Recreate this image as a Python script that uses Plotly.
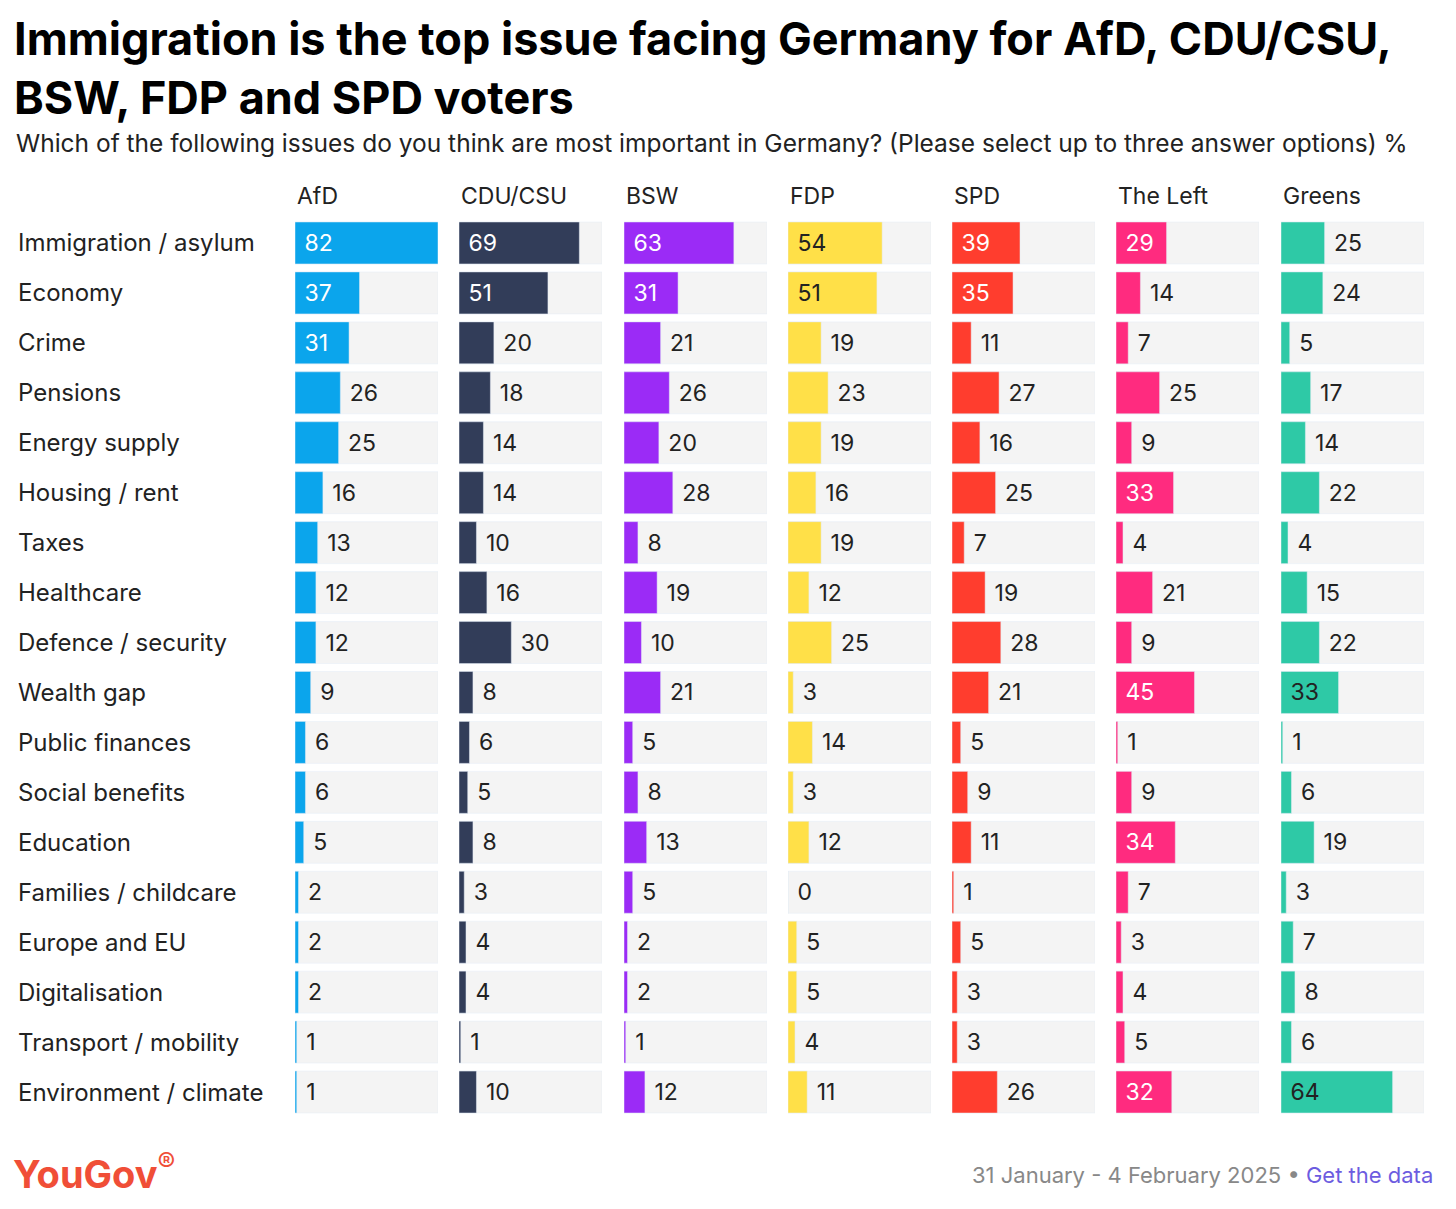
import plotly.graph_objects as go

issues = ["Immigration / asylum","Economy","Crime","Pensions","Energy supply","Housing / rent","Taxes","Healthcare","Defence / security","Wealth gap","Public finances","Social benefits","Education","Families / childcare","Europe and EU","Digitalisation","Transport / mobility","Environment / climate"]
parties = ["AfD","CDU/CSU","BSW","FDP","SPD","The Left","Greens"]
afd = [82,37,31,26,25,16,13,12,12,9,6,6,5,2,2,2,1,1]
cdu = [69,51,20,18,14,14,10,16,30,8,6,5,8,3,4,4,1,10]
bsw = [63,31,21,26,20,28,8,19,10,21,5,8,13,5,2,2,1,12]
fdp = [54,51,19,23,19,16,19,12,25,3,14,3,12,0,5,5,4,11]
spd = [39,35,11,27,16,25,7,19,28,21,5,9,11,1,5,3,3,26]
left = [29,14,7,25,9,33,4,21,9,45,1,9,34,7,3,4,5,32]
greens = [25,24,5,17,14,22,4,15,22,33,1,6,19,3,7,8,6,64]
series = [afd,cdu,bsw,fdp,spd,left,greens]
colors = ["#0ba5ec","#323d59","#9b2bf6","#ffe048","#ff3d2e","#ff2b7f","#2ec9a6"]
inside_col = ["white","white","white","#222","white","white","#222"]

W, H = 1456, 1209
D = 9  # page offset compensation
lefts = [296,460,625,789,953,1117,1282]
colw = 143
fig = go.Figure()
for i,(p,vals,c) in enumerate(zip(parties,series,colors)):
    ax = "" if i==0 else str(i+1)
    fig.add_trace(go.Bar(y=issues, x=[82]*len(issues), orientation="h", marker_color="#f4f4f4",
                         width=0.84, xaxis="x"+ax, yaxis="y", hoverinfo="skip", showlegend=False))
    ins = [v >= 29 and not (i == 1 and v == 30) for v in vals]
    pos = ["inside" if k else "outside" for k in ins]
    tcol = [inside_col[i] if k else "#222" for k in ins]
    txt = ["\u00a0"+str(v) for v in vals]
    fig.add_trace(go.Bar(y=issues, x=vals, orientation="h", marker_color=c, width=0.84,
                         text=txt, textposition=pos, insidetextanchor="start",
                         textfont=dict(size=23,color=tcol,family="Inter"), cliponaxis=False,
                         constraintext="none",
                         xaxis="x"+ax, yaxis="y", showlegend=False))
    fig.layout["xaxis"+ax] = dict(domain=[(lefts[i]-D)/W,(lefts[i]-D+colw)/W], range=[0,82],
                                  visible=False, anchor="y", fixedrange=True)
    fig.add_annotation(text=p, x=(lefts[i]-D)/W, y=1-(197-D)/H, xref="paper", yref="paper", showarrow=False,
                       xanchor="left", yanchor="middle", font=dict(size=23,color="#222",family="Inter"))
fig.update_layout(barmode="overlay")
top, bot = 219-D, 1118-D
fig.update_layout(yaxis=dict(domain=[1-bot/H,1-top/H], autorange="reversed", visible=False, fixedrange=True))
rowh = (bot-top)/len(issues)
for j,iss in enumerate(issues):
    fig.add_annotation(text=iss, x=(17-D)/W, y=1-(top+rowh*(j+0.5))/H, xref="paper", yref="paper",
                       showarrow=False, xanchor="left", yanchor="middle",
                       font=dict(size=24,color="#222",family="Inter"))
fig.add_annotation(text="<b>Immigration is the top issue facing Germany for AfD, CDU/CSU,<br>BSW, FDP and SPD voters</b>",
                   x=(13-D)/W, y=1-1/H, xref="paper", yref="paper", showarrow=False, xanchor="left", yanchor="top",
                   align="left", font=dict(size=45,color="#000",family="Inter", weight=900))
fig.add_annotation(text="Which of the following issues do you think are most important in Germany? (Please select up to three answer options) %",
                   x=(15-D)/W, y=1-(144-D)/H, xref="paper", yref="paper", showarrow=False, xanchor="left", yanchor="middle",
                   font=dict(size=24.5,color="#222",family="Inter"))
fig.add_annotation(text="<b>YouGov</b><sup>®</sup>", x=(12-D)/W, y=1-(1172-D)/H, xref="paper", yref="paper", showarrow=False,
                   xanchor="left", yanchor="middle", font=dict(size=38,color="#f04e37",family="Inter"))
fig.add_annotation(text="31 January - 4 February 2025 • <span style='color:#6c5ce0'>Get the data</span>",
                   x=(1436-D)/W, y=1-(1176-D)/H, xref="paper", yref="paper", showarrow=False,
                   xanchor="right", yanchor="middle", font=dict(size=22,color="#888",family="Inter"))
fig.update_layout(width=W, height=H, margin=dict(l=0,r=0,t=0,b=0), paper_bgcolor="white", plot_bgcolor="white")
fig.write_html("out.html")
